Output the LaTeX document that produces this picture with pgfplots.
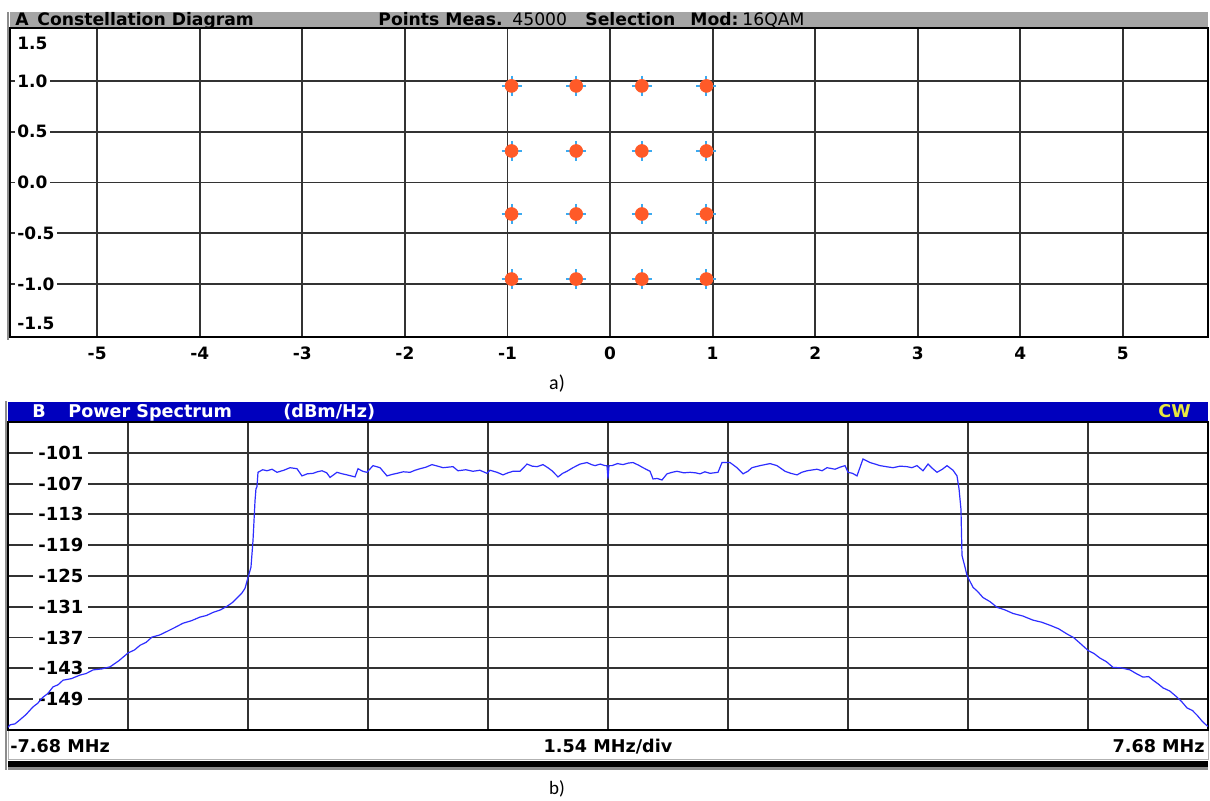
\documentclass[border=0pt]{standalone}
\usepackage{pgfplots}
\pgfplotsset{compat=1.18}
\usepackage{fontspec}
\setmainfont{DejaVu Sans}
\newfontfamily\carlito{Carlito}
\definecolor{qamorange}{RGB}{255,90,40}
\definecolor{qamcross}{RGB}{60,170,240}
\definecolor{hdrgray}{RGB}{165,165,165}
\definecolor{hdrblue}{RGB}{0,0,190}
\definecolor{cwyellow}{RGB}{232,232,64}
\definecolor{trace}{RGB}{45,45,255}
\begin{document}
\begin{tikzpicture}
\useasboundingbox (0,0) rectangle (605pt,400.5pt);
\fill[white] (0,0) rectangle (605pt,400.5pt);
% ---------- top panel ----------
\fill[hdrgray] (5pt,386.5pt) rectangle (604pt,394.5pt);
\draw[black!45, line width=0.6pt] (4pt,230.5pt) -- (4pt,394.5pt);
\begin{axis}[
  at={(5pt,232pt)}, anchor=south west,
  scale only axis, width=599pt, height=154.5pt,
  xmin=-5.85, xmax=5.83, ymin=-1.52, ymax=1.52,
  xtick={-5,-4,-3,-2,-1,0,1,2,3,4,5},
  xticklabels={-5,-4,-3,-2,-1,0,1,2,3,4,5},
  ytick={-1,-0.5,0,0.5,1},
  yticklabels={-1.0,-0.5,0.0,0.5,1.0},
  grid=major, major grid style={black!80, line width=0.9pt},
  major tick length=0pt,
  axis line style={black, line width=0.9pt},
  tick label style={font=\fontsize{8.5}{10}\selectfont\bfseries},
  xticklabel style={anchor=center, yshift=-8pt},
  yticklabel style={anchor=west, xshift=2.5pt, fill=white, inner sep=1pt},
  clip=false,
]
\addplot[only marks, mark=+, mark size=5pt, mark options={color=qamcross, line width=1pt}] coordinates {
(-0.96,0.95) (-0.33,0.95) (0.31,0.95) (0.94,0.95)
(-0.96,0.31) (-0.33,0.31) (0.31,0.31) (0.94,0.31)
(-0.96,-0.31) (-0.33,-0.31) (0.31,-0.31) (0.94,-0.31)
(-0.96,-0.95) (-0.33,-0.95) (0.31,-0.95) (0.94,-0.95)
};
\addplot[only marks, mark=*, mark size=3.2pt, color=qamorange, mark options={draw=qamorange, fill=qamorange}] coordinates {
(-0.96,0.95) (-0.33,0.95) (0.31,0.95) (0.94,0.95)
(-0.96,0.31) (-0.33,0.31) (0.31,0.31) (0.94,0.31)
(-0.96,-0.31) (-0.33,-0.31) (0.31,-0.31) (0.94,-0.31)
(-0.96,-0.95) (-0.33,-0.95) (0.31,-0.95) (0.94,-0.95)
};
\node[anchor=west, xshift=2.5pt, fill=white, inner sep=1pt, font=\fontsize{8.5}{10}\selectfont\bfseries] at (axis cs:-5.85,1.37) {1.5};
\node[anchor=west, xshift=2.5pt, fill=white, inner sep=1pt, font=\fontsize{8.5}{10}\selectfont\bfseries] at (axis cs:-5.85,-1.39) {-1.5};
\end{axis}
\begin{scope}[every node/.style={inner sep=0pt, anchor=base west, font=\fontsize{8.6}{10}\selectfont}]
\node[font=\fontsize{8.6}{10}\selectfont\bfseries] at (7.5pt,387.5pt) {A};
\node[font=\fontsize{8.6}{10}\selectfont\bfseries] at (18.5pt,387.5pt) {Constellation Diagram};
\node[font=\fontsize{8.6}{10}\selectfont\bfseries] at (189pt,387.5pt) {Points Meas.};
\node at (256pt,387.5pt) {45000};
\node[font=\fontsize{8.6}{10}\selectfont\bfseries] at (292.5pt,387.5pt) {Selection};
\node[font=\fontsize{8.6}{10}\selectfont\bfseries] at (345pt,387.5pt) {Mod:};
\node at (371pt,387.5pt) {16QAM};
\end{scope}
\node[anchor=base, inner sep=0pt, font=\carlito\fontsize{10}{12}\selectfont] at (278.5pt,205.5pt) {a)};
% ---------- bottom panel ----------
\fill[hdrblue] (4pt,189.5pt) rectangle (604pt,199.5pt);
\draw[black!45, line width=0.6pt] (3pt,15.5pt) -- (3pt,200pt);
\fill[white] (4pt,20.5pt) rectangle (604pt,35.5pt);
\draw[black!30, line width=0.5pt] (4pt,20.5pt) rectangle (604pt,35.5pt);
\fill[black] (4pt,17pt) rectangle (604pt,19.8pt);
\fill[black!45] (4pt,15.6pt) rectangle (604pt,16.8pt);
\begin{axis}[
  at={(4pt,35.5pt)}, anchor=south west,
  scale only axis, width=600pt, height=154pt,
  xmin=-7.68, xmax=7.68, ymin=-155, ymax=-95,
  xtick={-6.144,-4.608,-3.072,-1.536,0,1.536,3.072,4.608,6.144},
  xticklabels={},
  ytick={-149,-143,-137,-131,-125,-119,-113,-107,-101},
  yticklabels={-149,-143,-137,-131,-125,-119,-113,-107,-101},
  grid=major, major grid style={black!80, line width=0.9pt},
  major tick length=0pt,
  axis line style={black, line width=0.9pt},
  yticklabel style={anchor=west, xshift=12.5pt, fill=white, inner sep=2.5pt, font=\fontsize{9}{10}\selectfont\bfseries},
]
\end{axis}
\begin{axis}[
  at={(4pt,35.5pt)}, anchor=south west,
  scale only axis, width=600pt, height=154pt,
  xmin=-7.68, xmax=7.68, ymin=-155, ymax=-95,
  hide axis,
]
\addplot[trace, line width=0.6pt] table {
x y
-7.680 -154.5
-7.654 -154.0
-7.590 -153.8
-7.526 -153.0
-7.450 -152.0
-7.360 -150.5
-7.300 -149.8
-7.232 -148.6
-7.170 -147.9
-7.104 -146.6
-7.040 -146.2
-6.976 -145.3
-6.870 -145.0
-6.758 -144.3
-6.680 -144.0
-6.592 -143.3
-6.480 -143.1
-6.374 -142.7
-6.260 -141.5
-6.144 -140.0
-6.060 -139.4
-5.990 -138.5
-5.910 -137.9
-5.837 -136.9
-5.740 -136.5
-5.645 -135.8
-5.540 -135.0
-5.440 -134.2
-5.330 -133.7
-5.222 -133.0
-5.140 -132.7
-5.056 -132.1
-4.960 -131.6
-4.877 -130.9
-4.810 -130.2
-4.749 -129.3
-4.690 -128.4
-4.646 -127.4
-4.608 -125.3
-4.570 -123.3
-4.544 -118.1
-4.518 -110.3
-4.506 -108.0
-4.493 -107.6
-4.480 -104.8
-4.420 -104.3
-4.365 -104.5
-4.300 -104.2
-4.237 -104.8
-4.150 -104.4
-4.070 -103.9
-3.981 -104.1
-3.917 -105.5
-3.850 -105.1
-3.776 -105.0
-3.720 -104.7
-3.661 -104.5
-3.600 -104.9
-3.558 -105.8
-3.469 -104.8
-3.400 -105.1
-3.341 -105.3
-3.238 -105.7
-3.200 -104.1
-3.140 -104.6
-3.085 -104.8
-3.008 -103.5
-2.918 -103.9
-2.829 -105.5
-2.760 -105.2
-2.701 -105.0
-2.620 -104.7
-2.534 -104.8
-2.470 -104.4
-2.406 -104.1
-2.330 -103.8
-2.253 -103.3
-2.180 -103.6
-2.112 -103.9
-1.984 -103.7
-1.920 -104.5
-1.820 -104.3
-1.728 -104.6
-1.640 -104.4
-1.549 -105.0
-1.510 -104.4
-1.420 -104.8
-1.344 -105.3
-1.280 -104.9
-1.216 -104.6
-1.126 -104.6
-1.037 -103.2
-0.970 -103.6
-0.909 -103.7
-0.832 -103.3
-0.770 -103.9
-0.717 -104.5
-0.640 -105.7
-0.580 -105.0
-0.525 -104.6
-0.448 -103.9
-0.358 -103.2
-0.269 -102.9
-0.210 -103.3
-0.166 -103.5
-0.100 -103.2
-0.038 -103.5
-0.013 -103.5
0.000 -106.0
0.013 -103.5
0.051 -103.5
0.120 -103.1
0.192 -103.3
0.260 -103.0
0.320 -102.9
0.390 -103.4
0.448 -103.9
0.538 -104.6
0.576 -106.1
0.630 -106.0
0.691 -106.3
0.755 -105.1
0.820 -104.8
0.883 -104.6
0.970 -104.9
1.050 -104.8
1.120 -104.9
1.178 -105.1
1.240 -104.7
1.306 -105.0
1.408 -104.8
1.459 -102.9
1.562 -102.9
1.651 -103.9
1.728 -105.1
1.790 -104.6
1.843 -103.9
1.946 -103.5
2.074 -103.1
2.163 -103.5
2.266 -104.6
2.340 -105.0
2.419 -105.3
2.480 -104.8
2.547 -104.5
2.675 -104.2
2.740 -104.5
2.803 -103.9
2.906 -104.2
2.970 -103.8
3.034 -103.5
3.072 -104.8
3.130 -105.0
3.187 -105.5
3.264 -102.2
3.354 -102.9
3.420 -103.2
3.482 -103.5
3.560 -103.7
3.648 -103.9
3.740 -103.6
3.827 -103.7
3.890 -103.9
3.955 -103.5
4.032 -104.5
4.096 -103.2
4.150 -104.0
4.211 -104.8
4.280 -104.2
4.339 -103.5
4.416 -104.4
4.467 -105.5
4.493 -108.0
4.518 -112.0
4.531 -121.0
4.570 -123.3
4.595 -124.9
4.672 -127.2
4.730 -128.0
4.800 -129.2
4.890 -130.0
4.979 -131.1
5.080 -131.6
5.184 -132.3
5.310 -132.8
5.440 -133.6
5.550 -134.0
5.658 -134.6
5.770 -135.3
5.875 -136.3
5.960 -137.0
6.042 -138.1
6.144 -139.5
6.220 -140.1
6.298 -141.0
6.380 -141.7
6.464 -142.8
6.570 -142.9
6.682 -143.3
6.760 -144.0
6.848 -144.7
6.920 -144.6
6.976 -145.3
7.040 -146.0
7.104 -146.8
7.190 -147.4
7.283 -148.6
7.350 -149.6
7.411 -150.7
7.480 -151.2
7.539 -152.1
7.600 -153.2
7.654 -154.0
7.680 -154.3
};
\end{axis}
\begin{scope}[every node/.style={inner sep=0pt, anchor=base west, text=white, font=\fontsize{8.8}{10}\selectfont\bfseries}]
\node at (16pt,191.5pt) {B};
\node at (34pt,191.5pt) {Power Spectrum};
\node at (141.5pt,191.5pt) {(dBm/Hz)};
\node[text=cwyellow] at (579pt,191.5pt) {CW};
\end{scope}
\begin{scope}[every node/.style={inner sep=0pt, font=\fontsize{8.8}{10}\selectfont\bfseries}]
\node[anchor=base west] at (5pt,24pt) {-7.68 MHz};
\node[anchor=base] at (304pt,24pt) {1.54 MHz/div};
\node[anchor=base east] at (602.5pt,24pt) {7.68 MHz};
\end{scope}
\node[anchor=base, inner sep=0pt, font=\carlito\fontsize{9.5}{11}\selectfont] at (278.5pt,3pt) {b)};
\end{tikzpicture}
\end{document}
